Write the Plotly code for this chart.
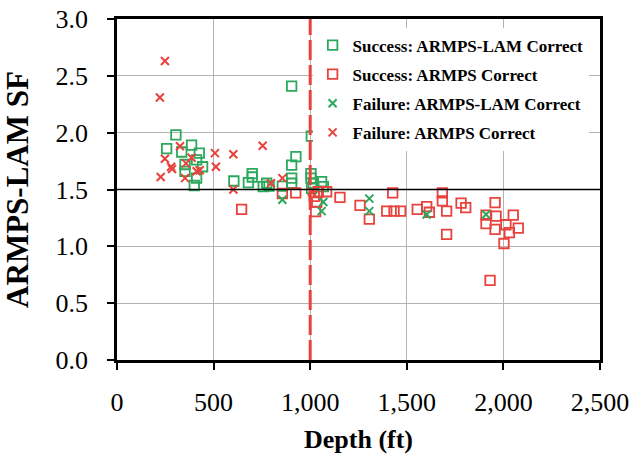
import plotly.graph_objects as go

# Success: ARMPS-LAM Correct (green open squares)
s_lam_x = [305, 257, 335, 386, 426, 412, 352, 443, 352, 412, 400, 605, 680, 700, 700, 757, 775, 787, 856,
           904, 926, 904, 904, 904, 1004, 1004, 1016, 1007, 1059, 1068, 1006]
s_lam_y = [1.98, 1.86, 1.83, 1.89, 1.82, 1.76, 1.72, 1.70, 1.66, 1.60, 1.535, 1.575, 1.56, 1.64, 1.61, 1.525, 1.555, 1.53, 1.53,
           2.41, 1.79, 1.715, 1.60, 1.555, 1.64, 1.60, 1.555, 1.51, 1.57, 1.525, 1.97]

# Success: ARMPS Correct (red open squares)
s_armps_x = [645, 856, 925, 1042, 1085, 1021, 1034, 1028, 1154, 1258, 1306, 1427, 1396, 1434, 1468, 1554, 1603, 1617,
             1684, 1684, 1706, 1706, 1781, 1805, 1957, 1910, 1910, 1962, 1957, 2051, 2013, 2077, 2031, 2003, 1931]
s_armps_y = [1.325, 1.465, 1.47, 1.48, 1.48, 1.44, 1.39, 1.305, 1.43, 1.36, 1.24, 1.47, 1.31, 1.31, 1.31, 1.325, 1.35, 1.30,
             1.47, 1.40, 1.31, 1.105, 1.38, 1.34, 1.385, 1.275, 1.20, 1.265, 1.15, 1.275, 1.19, 1.16, 1.12, 1.025, 0.70]

# Failure: ARMPS-LAM Correct (green x)
f_lam_x = [856, 1068, 1059, 1306, 1306, 1603, 1910]
f_lam_y = [1.41, 1.39, 1.31, 1.42, 1.31, 1.28, 1.28]

# Failure: ARMPS Correct (red x)
f_armps_x = [248, 222, 326, 386, 248, 280, 285, 357, 412, 428, 226, 352, 507, 602, 512, 754, 602, 797, 856, 1008]
f_armps_y = [2.63, 2.31, 1.88, 1.78, 1.77, 1.70, 1.68, 1.73, 1.66, 1.67, 1.61, 1.60, 1.82, 1.81, 1.70, 1.885, 1.50, 1.555, 1.60, 1.48]

x_ticks = [0, 500, 1000, 1500, 2000, 2500]
x_tick_labels = ["0", "500", "1,000", "1,500", "2,000", "2,500"]
y_ticks = [0.0, 0.5, 1.0, 1.5, 2.0, 2.5, 3.0]
y_tick_labels = ["0.0", "0.5", "1.0", "1.5", "2.0", "2.5", "3.0"]
depth_limit = 1000
sf_limit = 1.5

GREEN = "#2aa85c"
RED = "#e8423d"
SERIF = "Liberation Serif, Times New Roman, serif"

fig = go.Figure()
fig.add_trace(go.Scatter(x=s_lam_x, y=s_lam_y, mode="markers", name="<b>Success: ARMPS-LAM Correct</b>",
                         legendgroup="a",
                         marker=dict(symbol="square-open", size=9.5, color=GREEN, line=dict(width=1.8))))
fig.add_trace(go.Scatter(x=s_armps_x, y=s_armps_y, mode="markers", name="<b>Success: ARMPS Correct</b>",
                         legendgroup="b",
                         marker=dict(symbol="square-open", size=9.5, color=RED, line=dict(width=1.8))))
fig.add_trace(go.Scatter(x=f_lam_x, y=f_lam_y, mode="markers", name="<b>Failure: ARMPS-LAM Correct</b>",
                         legendgroup="c",
                         marker=dict(symbol="x-thin-open", size=8, color=GREEN, line=dict(width=2, color=GREEN))))
fig.add_trace(go.Scatter(x=f_armps_x, y=f_armps_y, mode="markers", name="<b>Failure: ARMPS Correct</b>",
                         legendgroup="d",
                         marker=dict(symbol="x-thin-open", size=8, color=RED, line=dict(width=2, color=RED))))

fig.add_shape(type="line", xref="paper", x0=0, x1=1, yref="y", y0=sf_limit, y1=sf_limit,
              line=dict(color="black", width=1.5), layer="above")
fig.add_shape(type="line", xref="x", x0=depth_limit, x1=depth_limit, yref="paper", y0=0, y1=1,
              line=dict(color=RED, width=3, dash="20px,5px"), layer="above")

fig.update_layout(
    width=634, height=458,
    margin=dict(l=117, r=34, t=19, b=98, autoexpand=False),
    plot_bgcolor="white", paper_bgcolor="white",
    font=dict(family=SERIF, color="black"),
    showlegend=True,
    legend=dict(x=0.405, xanchor="left", y=0.975, yanchor="top",
                bgcolor="white", borderwidth=0,
                font=dict(family=SERIF, size=17, color="black"),
                traceorder="grouped", tracegroupgap=4, itemwidth=30),
    xaxis=dict(range=[0, 2500], tickvals=x_ticks, ticktext=x_tick_labels,
               showgrid=True, gridcolor="#b4b4b4", gridwidth=1,
               showline=True, linecolor="black", linewidth=2.5, mirror=True,
               ticks="outside", ticklen=7, tickcolor="black", tickwidth=1.5,
               tickfont=dict(family=SERIF, size=26), ticklabelstandoff=10,
               zeroline=False, automargin=False,
               title=dict(text="<b>Depth (ft)</b>", font=dict(family=SERIF, size=26), standoff=14)),
    yaxis=dict(range=[0, 3.0], tickvals=y_ticks, ticktext=y_tick_labels,
               showgrid=True, gridcolor="#b4b4b4", gridwidth=1,
               showline=True, linecolor="black", linewidth=2.5, mirror=True,
               ticks="outside", ticklen=7, tickcolor="black", tickwidth=1.5,
               tickfont=dict(family=SERIF, size=26), ticklabelstandoff=14,
               zeroline=False, automargin=False,
               title=dict(text="<b>ARMPS-LAM SF</b>", font=dict(family=SERIF, size=31), standoff=20)),
)

fig.write_html("out.html")
